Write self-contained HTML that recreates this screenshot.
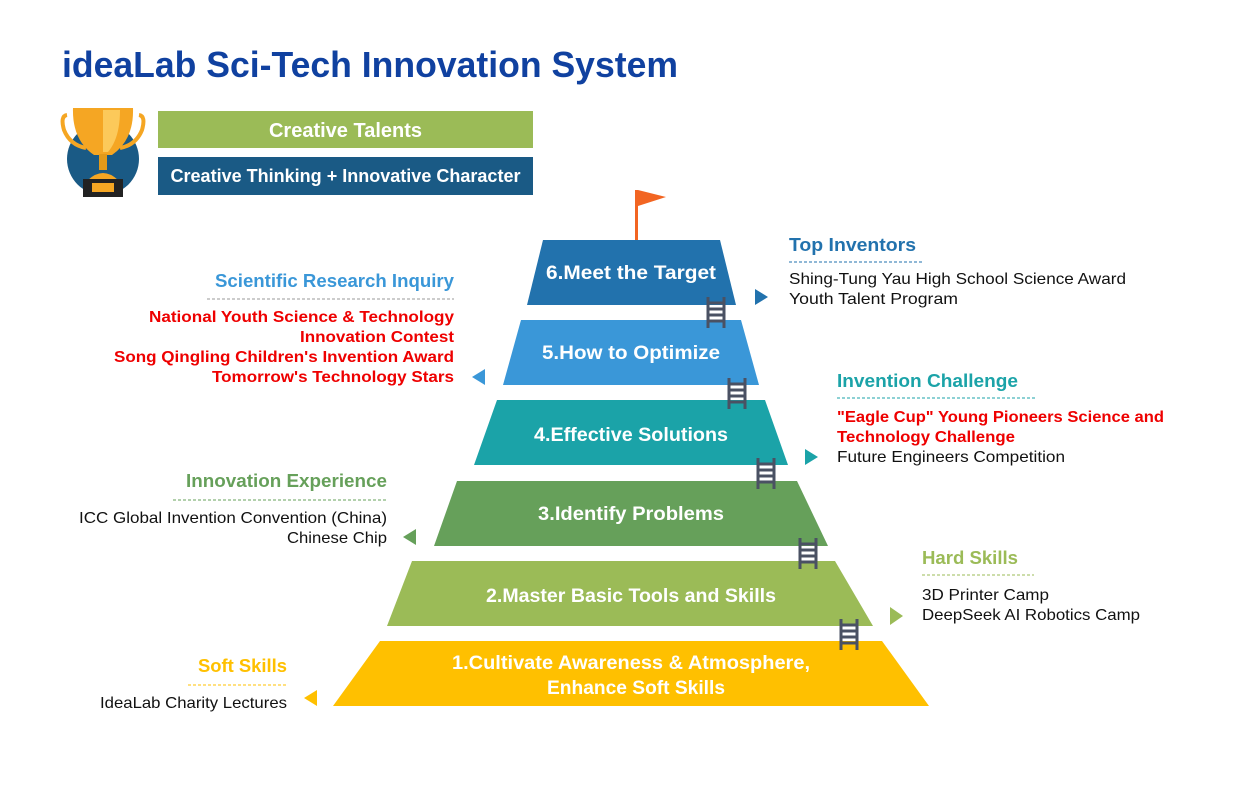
<!DOCTYPE html>
<html><head><meta charset="utf-8"><style>
html,body{margin:0;padding:0;background:#fff;}
svg{display:block;font-family:"Liberation Sans",sans-serif;}
.h{font-weight:bold;font-size:18px;}
.b{font-size:16px;fill:#111;}
.r{font-size:16px;font-weight:bold;fill:#ee0000;}
.l{font-size:19px;font-weight:bold;fill:#fff;}
</style></head><body>
<svg width="1238" height="788" viewBox="0 0 1238 788">
<text x="62" y="77" font-size="36" font-weight="bold" fill="#1041a0" textLength="616" lengthAdjust="spacingAndGlyphs">ideaLab Sci-Tech Innovation System</text>
<!-- trophy -->
<circle cx="103" cy="159" r="36" fill="#1a5a85"/>
<path d="M67 115 Q60 116 64 130 Q70 145 86 148" fill="none" stroke="#f5a623" stroke-width="4"/>
<path d="M139 115 Q146 116 142 130 Q136 145 120 148" fill="none" stroke="#f5a623" stroke-width="4"/>
<path d="M73 108 L133 108 Q134 140 112 155 L94 155 Q72 140 73 108 Z" fill="#f5a623"/>
<path d="M103 110 L120 110 Q120 138 108 152 L103 152 Z" fill="#fcc95a"/>
<rect x="99" y="154" width="8" height="16" fill="#e39a1a"/>
<path d="M88 180 Q103 166 118 180 Z" fill="#f5a623"/>
<rect x="83" y="179" width="40" height="18" fill="#222"/>
<rect x="92" y="183" width="22" height="9" fill="#f5a623"/>
<rect x="158" y="111" width="375" height="37" fill="#9bbb57"/>
<text x="345.5" y="137" text-anchor="middle" font-size="20" font-weight="bold" fill="#fff">Creative Talents</text>
<rect x="158" y="157" width="375" height="38" fill="#1a5a85"/>
<text x="345.5" y="182" text-anchor="middle" font-size="18" font-weight="bold" fill="#fff" textLength="350" lengthAdjust="spacingAndGlyphs">Creative Thinking + Innovative Character</text>
<!-- flag -->
<rect x="635" y="190" width="3" height="50" fill="#f26522"/>
<path d="M638 190 L666 197 L638 206 Z" fill="#f26522"/>
<!-- pyramid -->
<polygon points="543,240 720,240 736,305 527,305" fill="#2272ad"/>
<polygon points="521,320 741,320 759,385 503,385" fill="#3a97d8"/>
<polygon points="497,400 765,400 788,465 474,465" fill="#1ba3a8"/>
<polygon points="457,481 797,481 828,546 434,546" fill="#66a05a"/>
<polygon points="412,561 835,561 873,626 387,626" fill="#9bbb57"/>
<polygon points="380,641 882,641 929,706 333,706" fill="#ffc000"/>
<text class="l" x="631" y="279" text-anchor="middle" textLength="170" lengthAdjust="spacingAndGlyphs">6.Meet the Target</text>
<text class="l" x="631" y="359" text-anchor="middle" textLength="178" lengthAdjust="spacingAndGlyphs">5.How to Optimize</text>
<text class="l" x="631" y="441" text-anchor="middle" textLength="194" lengthAdjust="spacingAndGlyphs">4.Effective Solutions</text>
<text class="l" x="631" y="520" text-anchor="middle" textLength="186" lengthAdjust="spacingAndGlyphs">3.Identify Problems</text>
<text class="l" x="631" y="602" text-anchor="middle" textLength="290" lengthAdjust="spacingAndGlyphs">2.Master Basic Tools and Skills</text>
<text class="l" x="631" y="669" text-anchor="middle" textLength="358" lengthAdjust="spacingAndGlyphs">1.Cultivate Awareness &amp; Atmosphere,</text>
<text class="l" x="636" y="694" text-anchor="middle" textLength="178" lengthAdjust="spacingAndGlyphs">Enhance Soft Skills</text>
<!-- ladders -->
<defs><g id="lad" stroke="#4a5163" stroke-width="3" fill="none">
<line x1="-8" y1="0" x2="-8" y2="31"/><line x1="8" y1="0" x2="8" y2="31"/>
<line x1="-8" y1="6" x2="8" y2="6"/><line x1="-8" y1="12" x2="8" y2="12"/><line x1="-8" y1="18" x2="8" y2="18"/><line x1="-8" y1="24" x2="8" y2="24"/>
</g></defs>
<use href="#lad" x="716" y="297"/>
<use href="#lad" x="737" y="378"/>
<use href="#lad" x="766" y="458"/>
<use href="#lad" x="808" y="538"/>
<use href="#lad" x="849" y="619"/>
<!-- arrows -->
<polygon points="755,289 768,297 755,305" fill="#2272ad"/>
<polygon points="485,369 472,377 485,385" fill="#3a97d8"/>
<polygon points="805,449 818,457 805,465" fill="#1ba3a8"/>
<polygon points="416,529 403,537 416,545" fill="#66a05a"/>
<polygon points="890,607 903,616 890,625" fill="#9bbb57"/>
<polygon points="317,690 304,698 317,706" fill="#ffc000"/>
<!-- dashes -->
<g stroke-width="1" stroke-dasharray="3,2">
<line x1="789" y1="262" x2="924" y2="262" stroke="#2272ad"/>
<line x1="207" y1="299" x2="454" y2="299" stroke="#999"/>
<line x1="837" y1="398" x2="1037" y2="398" stroke="#1ba3a8"/>
<line x1="173" y1="500" x2="387" y2="500" stroke="#66a05a"/>
<line x1="922" y1="575" x2="1034" y2="575" stroke="#9bbb57"/>
<line x1="188" y1="685" x2="287" y2="685" stroke="#ffc000"/>
</g>
<text class="h" x="789" y="251" fill="#2272ad" textLength="127" lengthAdjust="spacingAndGlyphs">Top Inventors</text>
<text class="b" x="789" y="284" textLength="337" lengthAdjust="spacingAndGlyphs">Shing-Tung Yau High School Science Award</text>
<text class="b" x="789" y="304" textLength="169" lengthAdjust="spacingAndGlyphs">Youth Talent Program</text>
<g text-anchor="end">
<text class="h" x="454" y="287" fill="#3a97d8" textLength="239" lengthAdjust="spacingAndGlyphs">Scientific Research Inquiry</text>
<text class="r" x="454" y="322" textLength="305" lengthAdjust="spacingAndGlyphs">National Youth Science &amp; Technology</text>
<text class="r" x="454" y="342" textLength="154" lengthAdjust="spacingAndGlyphs">Innovation Contest</text>
<text class="r" x="454" y="362" textLength="340" lengthAdjust="spacingAndGlyphs">Song Qingling Children's Invention Award</text>
<text class="r" x="454" y="382" textLength="242" lengthAdjust="spacingAndGlyphs">Tomorrow's Technology Stars</text>
<text class="h" x="387" y="487" fill="#66a05a" textLength="201" lengthAdjust="spacingAndGlyphs">Innovation Experience</text>
<text class="b" x="387" y="523" textLength="308" lengthAdjust="spacingAndGlyphs">ICC Global Invention Convention (China)</text>
<text class="b" x="387" y="543" textLength="100" lengthAdjust="spacingAndGlyphs">Chinese Chip</text>
<text class="h" x="287" y="672" fill="#ffc000" textLength="89" lengthAdjust="spacingAndGlyphs">Soft Skills</text>
<text class="b" x="287" y="708" textLength="187" lengthAdjust="spacingAndGlyphs">IdeaLab Charity Lectures</text>
</g>
<text class="h" x="837" y="387" fill="#1ba3a8" textLength="181" lengthAdjust="spacingAndGlyphs">Invention Challenge</text>
<text class="r" x="837" y="422" textLength="327" lengthAdjust="spacingAndGlyphs">"Eagle Cup" Young Pioneers Science and</text>
<text class="r" x="837" y="442" textLength="178" lengthAdjust="spacingAndGlyphs">Technology Challenge</text>
<text class="b" x="837" y="462" textLength="228" lengthAdjust="spacingAndGlyphs">Future Engineers Competition</text>
<text class="h" x="922" y="564" fill="#9bbb57" textLength="96" lengthAdjust="spacingAndGlyphs">Hard Skills</text>
<text class="b" x="922" y="600" textLength="127" lengthAdjust="spacingAndGlyphs">3D Printer Camp</text>
<text class="b" x="922" y="620" textLength="218" lengthAdjust="spacingAndGlyphs">DeepSeek AI Robotics Camp</text>
</svg>
</body></html>
